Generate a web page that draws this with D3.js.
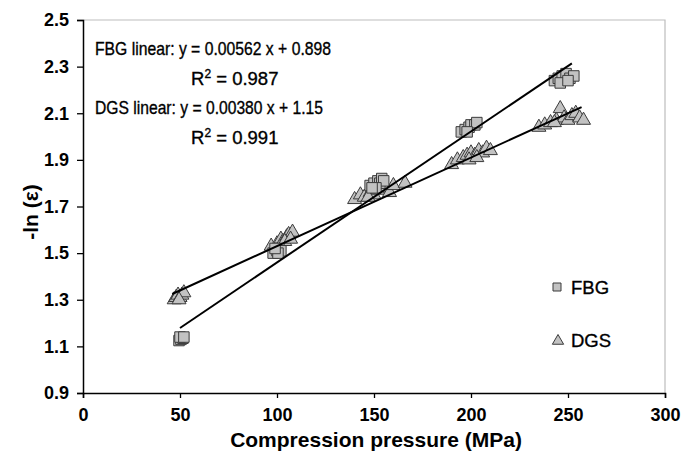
<!DOCTYPE html>
<html>
<head>
<meta charset="utf-8">
<script src="https://cdn.jsdelivr.net/npm/d3@7"></script>
<style>
  html, body { margin: 0; padding: 0; background: #fff; }
  svg { display: block; font-family: "Liberation Sans", Arial, sans-serif; }
</style>
</head>
<body>
<svg id="chart" width="681" height="459"></svg>
<script>
// Compression pressure (MPa) and -ln(strain) readings, FBG sensor
const fbgPressure = [49.5, 50.5, 51.5, 50, 52,
  98, 100, 101, 102, 100.5, 99,
  148, 150, 152, 153, 154, 155, 151, 149,
  195, 197, 199, 200, 202, 203, 198,
  243, 245, 247, 249, 251, 253, 246, 250];
const fbgValue = [1.125, 1.13, 1.135, 1.14, 1.14,
  1.50, 1.51, 1.52, 1.51, 1.50, 1.52,
  1.79, 1.80, 1.81, 1.80, 1.82, 1.81, 1.78, 1.78,
  2.02, 2.03, 2.04, 2.05, 2.05, 2.06, 2.02,
  2.24, 2.25, 2.26, 2.27, 2.25, 2.26, 2.23, 2.24];

// DGS readings
const dgsPressure = [47, 48, 49, 50, 51, 52, 49.5,
  97, 100, 102, 103, 105, 106, 108, 104, 107,
  140, 143, 145, 148, 150, 152, 155, 158, 160, 166, 147,
  190, 193, 196, 198, 200, 202, 204, 206, 208, 210, 199, 203,
  235, 238, 241, 244, 246, 248, 250, 252, 254, 256, 258, 243];
const dgsValue = [1.30, 1.31, 1.32, 1.31, 1.32, 1.33, 1.30,
  1.53, 1.54, 1.56, 1.55, 1.57, 1.58, 1.59, 1.55, 1.56,
  1.73, 1.75, 1.74, 1.76, 1.75, 1.77, 1.78, 1.76, 1.79, 1.80, 1.74,
  1.88, 1.90, 1.91, 1.92, 1.93, 1.92, 1.94, 1.93, 1.95, 1.94, 1.90, 1.91,
  2.04, 2.05, 2.06, 2.07, 2.12, 2.08, 2.07, 2.09, 2.10, 2.08, 2.07, 2.06];

// Linear fits: slope, intercept, x extent
const fbgFit = { slope: 0.00562, intercept: 0.898, from: 50, to: 252 };
const dgsFit = { slope: 0.00380, intercept: 1.15, from: 46, to: 257 };

const xTicks = [0, 50, 100, 150, 200, 250, 300];
const yTicks = [0.9, 1.1, 1.3, 1.5, 1.7, 1.9, 2.1, 2.3, 2.5];

const svg = d3.select("#chart");
const x = d3.scaleLinear().domain([0, 300]).range([83, 665]);
const y = d3.scaleLinear().domain([0.9, 2.5]).range([393, 20]);

// plot frame (top & right)
svg.append("path")
  .attr("d", `M${x(0)},${y(2.5)}H${x(300)}V${y(0.9)}`)
  .attr("fill", "none").attr("stroke", "#bdbdbd").attr("stroke-width", 1.2);

// axes
const xAxis = svg.append("g").attr("transform", `translate(0,${y(0.9)})`)
  .call(d3.axisBottom(x).tickValues(xTicks).tickSize(5).tickPadding(8).tickFormat(d3.format("d")));
const yAxis = svg.append("g").attr("transform", `translate(${x(0)},0)`)
  .call(d3.axisLeft(y).tickValues(yTicks).tickSize(6).tickPadding(8).tickFormat(d3.format(".1f")));
[xAxis, yAxis].forEach(g => {
  g.select(".domain").attr("stroke", "#000").attr("stroke-width", 1.5);
  g.selectAll(".tick line").attr("stroke", "#000").attr("stroke-width", 1.3);
  g.selectAll("text").attr("fill", "#000").attr("font-size", 18).attr("font-weight", "bold")
    .attr("font-family", "'Liberation Sans', Arial, sans-serif");
});
xAxis.selectAll("text").attr("dy", "0.85em");

// axis titles
svg.append("text").attr("x", 376).attr("y", 447).attr("text-anchor", "middle")
  .attr("font-size", 21).attr("font-weight", "bold").text("Compression pressure (MPa)");
svg.append("text").attr("transform", "translate(38,212) rotate(-90)").attr("text-anchor", "middle")
  .attr("font-size", 21).attr("font-weight", "bold").text("-ln (ε)");

// markers
const markFill = "#c2c2c2", markStroke = "#3a3a3a";
const square = d3.symbol().type(d3.symbolSquare).size(110);
const triangle = d3.symbol().type(d3.symbolTriangle).size(85);

svg.append("g").selectAll("path").data(dgsPressure.map((p, i) => [p, dgsValue[i]]))
  .join("path").attr("d", triangle)
  .attr("transform", d => `translate(${x(d[0])},${y(d[1])})`)
  .attr("fill", markFill).attr("stroke", markStroke).attr("stroke-width", 1);

svg.append("g").selectAll("path").data(fbgPressure.map((p, i) => [p, fbgValue[i]]))
  .join("path").attr("d", square)
  .attr("transform", d => `translate(${x(d[0])},${y(d[1])})`)
  .attr("fill", markFill).attr("stroke", markStroke).attr("stroke-width", 1);

// fit lines
const line = d3.line().x(d => x(d[0])).y(d => y(d[1]));
[fbgFit, dgsFit].forEach(f => {
  svg.append("path")
    .attr("d", line([[f.from, f.slope * f.from + f.intercept], [f.to, f.slope * f.to + f.intercept]]))
    .attr("fill", "none").attr("stroke", "#000").attr("stroke-width", 2);
});

// fit equations
const eq = svg.append("g").attr("font-size", 18.5).attr("fill", "#000")
  .attr("stroke", "#000").attr("stroke-width", 0.35);
function eqText(px, py, parts, len) {
  const t = eq.append("text").attr("x", px).attr("y", py);
  parts.forEach(p => {
    const s = t.append("tspan").text(p.t);
    if (p.sup) s.attr("baseline-shift", "super").attr("font-size", 12);
  });
  if (len) t.attr("textLength", len).attr("lengthAdjust", "spacingAndGlyphs");
}
eqText(95, 55, [{ t: "FBG linear: y = 0.00562 x + 0.898" }], 236);
eqText(191, 85, [{ t: "R" }, { t: "2", sup: true }, { t: " = 0.987" }]);
eqText(95, 114, [{ t: "DGS linear: y = 0.00380 x + 1.15" }], 228);
eqText(191, 144, [{ t: "R" }, { t: "2", sup: true }, { t: " = 0.991" }]);

// legend
const lg = svg.append("g");
lg.append("path").attr("d", d3.symbol().type(d3.symbolSquare).size(64))
  .attr("transform", "translate(557,287)").attr("fill", markFill).attr("stroke", markStroke);
lg.append("text").attr("x", 571).attr("y", 294).attr("font-size", 18.5)
  .attr("stroke", "#000").attr("stroke-width", 0.35).text("FBG");
lg.append("path").attr("d", d3.symbol().type(d3.symbolTriangle).size(55))
  .attr("transform", "translate(558,341)").attr("fill", markFill).attr("stroke", markStroke);
lg.append("text").attr("x", 571).attr("y", 347).attr("font-size", 18.5)
  .attr("stroke", "#000").attr("stroke-width", 0.35).text("DGS");
</script>
</body>
</html>
